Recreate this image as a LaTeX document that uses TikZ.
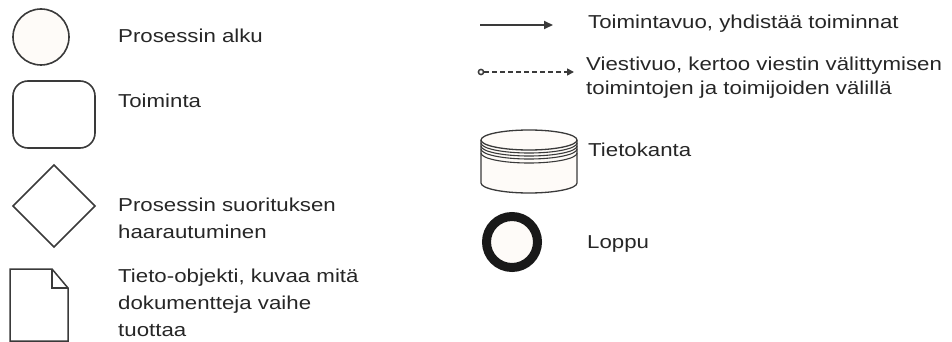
\documentclass[tikz,border=0pt]{standalone}
\usepackage{fontspec}
\setmainfont[FakeStretch=1.19]{Liberation Sans}
\usetikzlibrary{arrows.meta}
\definecolor{txt}{HTML}{262626}
\definecolor{edge}{HTML}{3A3A3A}
\definecolor{paper}{HTML}{FEFBF8}
\tikzset{
  lbl/.style={anchor=base west, inner sep=0pt, text=txt, font=\fontsize{18.7pt}{27pt}\selectfont, align=left},
  lblr/.style={lbl, font=\fontsize{18.7pt}{23.5pt}\selectfont},
  shp/.style={draw=edge, line width=1.6pt, fill=paper},
}
\begin{document}
\begin{tikzpicture}[x=1pt,y=-1pt]
\useasboundingbox (0,0) rectangle (952,342);
% start circle
\draw[shp] (41,37) circle[radius=28];
% activity
\draw[shp, fill=white, rounded corners=15pt] (13,81) rectangle (95,148);
% gateway
\draw[shp, fill=white] (13,206) -- (54,165) -- (95,206) -- (54,247) -- cycle;
% data object
\draw[shp, fill=white, line width=1.5pt] (10,269) -- (52,269) -- (68,288) -- (68,341) -- (10,341) -- cycle;
\draw[draw=edge, line width=1.5pt] (52,269) -- (52,288) -- (68,288);
% texts left (base anchor = baseline of last line)
\node[lbl] (t1) at (118,42.5) {Prosessin alku};
\node[lbl] (t2) at (118,108) {Toiminta};
\node[lbl] (t3) at (118,238) {Prosessin suorituksen\\haarautuminen};
\node[lbl] (t4) at (118,336) {Tieto-objekti, kuvaa mitä\\dokumentteja vaihe\\tuottaa};
% sequence flow
\coordinate (s1) at (480,25);
\coordinate (s2) at (553,25);
\draw[draw=edge, line width=2pt, -{Triangle[length=9pt,width=8pt]}] (s1) -- (s2);
% message flow
\coordinate (m1) at (484,72);
\coordinate (m2) at (574,72);
\draw[draw=edge, line width=1.5pt] (m1) ++(-3,0) circle[radius=2.6];
\draw[draw=edge, line width=1.6pt, dash pattern=on 5pt off 3pt, -{Triangle[length=7pt,width=7pt]}] (m1) -- (m2);
% texts right
\node[lbl] (r1) at (588,29) {Toimintavuo, yhdistää toiminnat};
\node[lblr] (r2) at (586,94.5) {Viestivuo, kertoo viestin välittymisen\\toimintojen ja toimijoiden välillä};
% database
\draw[shp, line width=1.3pt] (481,140) -- (481,183) arc[start angle=180, end angle=0, x radius=48, y radius=10] -- (577,140);
\draw[shp, line width=1.3pt] (529,140) ellipse[x radius=48, y radius=10];
\foreach \d in {3,6,9,13}
  \draw[draw=edge, line width=1.1pt] (481,140+\d) arc[start angle=180, end angle=0, x radius=48, y radius=10];
\node[lbl] (r3) at (588,156) {Tietokanta};
% end event
\draw[draw=black!90, line width=9pt, fill=paper] (512,242) circle[radius=25.5];
\node[lbl] (r4) at (587,248) {Loppu};
\end{tikzpicture}
\end{document}
